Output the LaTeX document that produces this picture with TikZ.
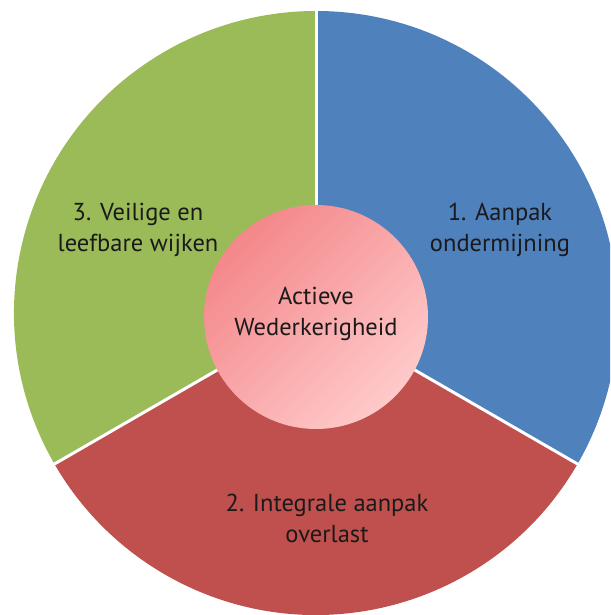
\documentclass[tikz,border=0pt]{standalone}
\usepackage{fontspec}
\setmainfont{PT Sans}
\usetikzlibrary{calc}
\definecolor{segblue}{HTML}{4F81BD}
\definecolor{segred}{HTML}{C0504D}
\definecolor{seggreen}{HTML}{9BBB59}
\definecolor{pinkdark}{HTML}{F4878A}
\definecolor{pinklight}{HTML}{FFCACA}
\definecolor{txt}{HTML}{1A1A1A}
\begin{document}
\begin{tikzpicture}[x=1pt,y=1pt,
  lbl/.style={text=txt,font=\fontsize{24.5}{31}\selectfont,align=center,inner sep=0pt},
  divider/.style={draw=white,line width=3pt}]
\useasboundingbox (0,0) rectangle (610,615);
\clip (0,0) rectangle (610,615);
\coordinate (C) at (316,302);
\fill[segblue] (C) -- ++(90:302) arc[start angle=90,end angle=-30,radius=302] -- cycle;
\fill[segred] (C) -- ++(-30:302) arc[start angle=-30,end angle=-150,radius=302] -- cycle;
\fill[seggreen] (C) -- ++(210:302) arc[start angle=210,end angle=90,radius=302] -- cycle;
\coordinate (e1) at ($(C)+(90:310)$);
\coordinate (e2) at ($(C)+(-30:310)$);
\coordinate (e3) at ($(C)+(210:310)$);
\draw[divider] (C) -- (e1);
\draw[divider] (C) -- (e2);
\draw[divider] (C) -- (e3);
\shade[left color=pinkdark,right color=pinklight,shading angle=45] (316,298) circle[radius=112];
\node[lbl] (n1) at (500,385) {1. Aanpak\\ondermijning};
\node[lbl] (n3) at (138,385) {3. Veilige en\\leefbare wijken};
\node[lbl] (nc) at (316,301) {Actieve\\Wederkerigheid};
\node[lbl] (n2) at (327,97) {2. Integrale aanpak\\overlast};
\end{tikzpicture}
\end{document}
